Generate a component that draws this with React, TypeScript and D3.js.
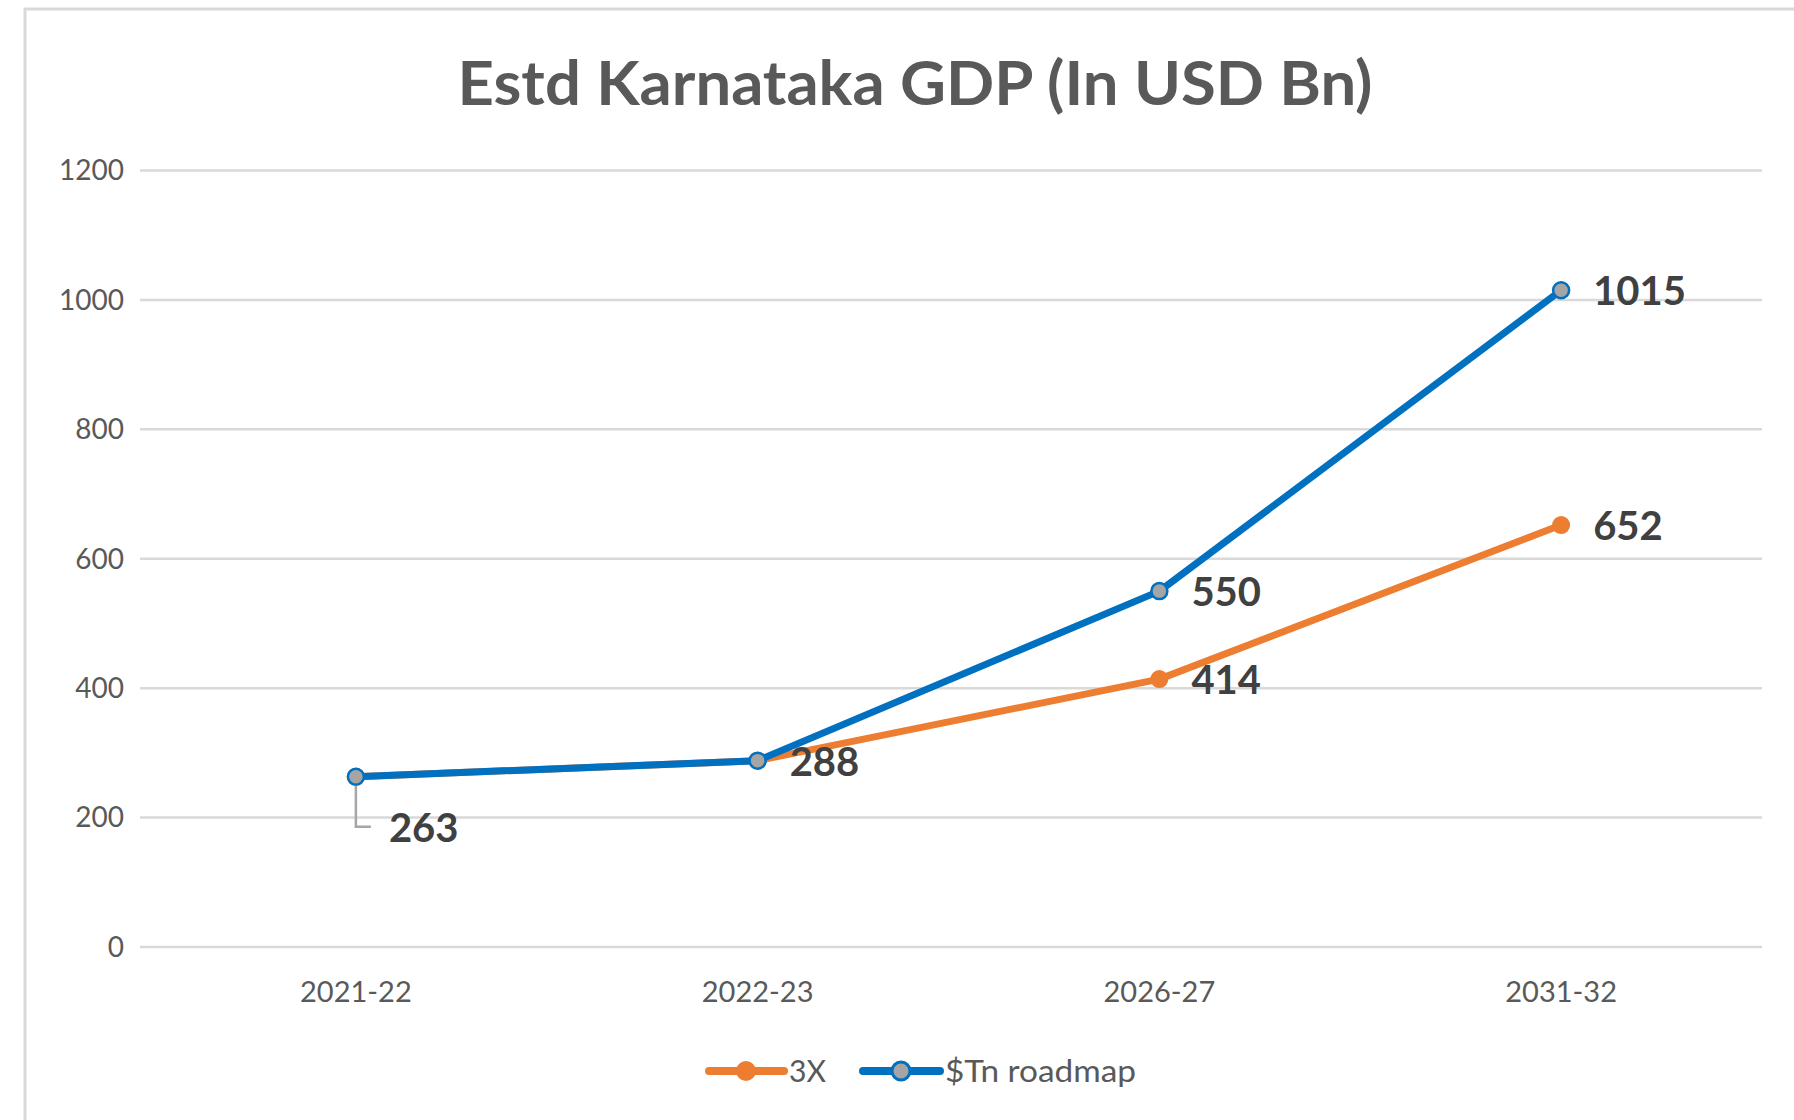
import React from "react";
import * as d3 from "d3";

const years = ["2021-22", "2022-23", "2026-27", "2031-32"];
const threeX = [263, 288, 414, 652];
const roadmap = [263, 288, 550, 1015];
const yTicks = [0, 200, 400, 600, 800, 1000, 1200];

const W = 1794;
const H = 1120;
const FONT = "Lato, 'Open Sans', sans-serif";
const ORANGE = "#ed7d31";
const BLUE = "#0070c0";

const App = () => {
  const x = d3.scalePoint<string>().domain(years).range([155, 1762]).padding(0.5);
  const y = d3.scaleLinear().domain([0, 1200]).range([947, 170.5]);

  const line = d3
    .line<number>()
    .x((_, i) => x(years[i]) as number)
    .y((d) => y(d));

  // which value label goes with which series; the first point gets a leader line
  const labels = [
    { v: roadmap[0], i: 0, leader: true },
    { v: threeX[1], i: 1 },
    { v: threeX[2], i: 2 },
    { v: roadmap[2], i: 2 },
    { v: threeX[3], i: 3 },
    { v: roadmap[3], i: 3 },
  ];

  return (
    <svg
      width={W}
      height={H}
      style={{ position: "absolute", left: 0, top: 0, background: "#fff" }}
    >
      <rect x={25} y={9} width={W + 20} height={H + 20} fill="#fff" stroke="#d9d9d9" strokeWidth={3} />

      <text
        x={915}
        y={105}
        textAnchor="middle"
        fontFamily={FONT}
        fontWeight="bold"
        fontSize={62}
        fill="#595959"
        textLength={915}
        lengthAdjust="spacingAndGlyphs"
      >
        Estd Karnataka GDP (In USD Bn)
      </text>

      {yTicks.map((t) => (
        <g key={t}>
          <line x1={140} x2={1762} y1={y(t)} y2={y(t)} stroke="#d9d9d9" strokeWidth={2.5} />
          <text
            x={124}
            y={y(t)}
            dy="0.35em"
            textAnchor="end"
            fontFamily={FONT}
            fontSize={28}
            fill="#595959"
          >
            {t}
          </text>
        </g>
      ))}

      {years.map((yr) => (
        <text
          key={yr}
          x={x(yr)}
          y={1002}
          textAnchor="middle"
          fontFamily={FONT}
          fontSize={29}
          fill="#595959"
        >
          {yr}
        </text>
      ))}

      <path d={line(threeX) || ""} fill="none" stroke={ORANGE} strokeWidth={7} strokeLinejoin="round" strokeLinecap="round" />
      {threeX.map((v, i) => (
        <circle key={"o" + i} cx={x(years[i])} cy={y(v)} r={9} fill={ORANGE} />
      ))}

      <path d={line(roadmap) || ""} fill="none" stroke={BLUE} strokeWidth={7} strokeLinejoin="round" strokeLinecap="round" />
      {roadmap.map((v, i) => (
        <circle key={"b" + i} cx={x(years[i])} cy={y(v)} r={8} fill="#a5a5a5" stroke={BLUE} strokeWidth={2.5} />
      ))}

      {labels.map((l, k) => {
        const px = x(years[l.i]) as number;
        const py = y(l.v);
        if (l.leader) {
          return (
            <g key={k}>
              <polyline
                points={`${px},${py + 9} ${px},${py + 50} ${px + 15},${py + 50}`}
                fill="none"
                stroke="#a6a6a6"
                strokeWidth={2.5}
              />
              <text x={px + 33} y={py + 51} dy="0.35em" fontFamily={FONT} fontWeight="bold" fontSize={40} fill="#404040">
                {l.v}
              </text>
            </g>
          );
        }
        return (
          <text key={k} x={px + 32} y={py + 1} dy="0.35em" fontFamily={FONT} fontWeight="bold" fontSize={40} fill="#404040">
            {l.v}
          </text>
        );
      })}

      <g fontFamily={FONT} fontSize={31} fill="#595959">
        <line x1={709} x2={784} y1={1071} y2={1071} stroke={ORANGE} strokeWidth={8} strokeLinecap="round" />
        <circle cx={746} cy={1071} r={10} fill={ORANGE} />
        <text x={789} y={1071} dy="0.35em" textLength={37} lengthAdjust="spacingAndGlyphs">3X</text>
        <line x1={863} x2={940} y1={1071} y2={1071} stroke={BLUE} strokeWidth={8} strokeLinecap="round" />
        <circle cx={901} cy={1071} r={9} fill="#a5a5a5" stroke={BLUE} strokeWidth={3} />
        <text x={945} y={1071} dy="0.35em" textLength={191} lengthAdjust="spacingAndGlyphs">$Tn roadmap</text>
      </g>
    </svg>
  );
};

export default App;
